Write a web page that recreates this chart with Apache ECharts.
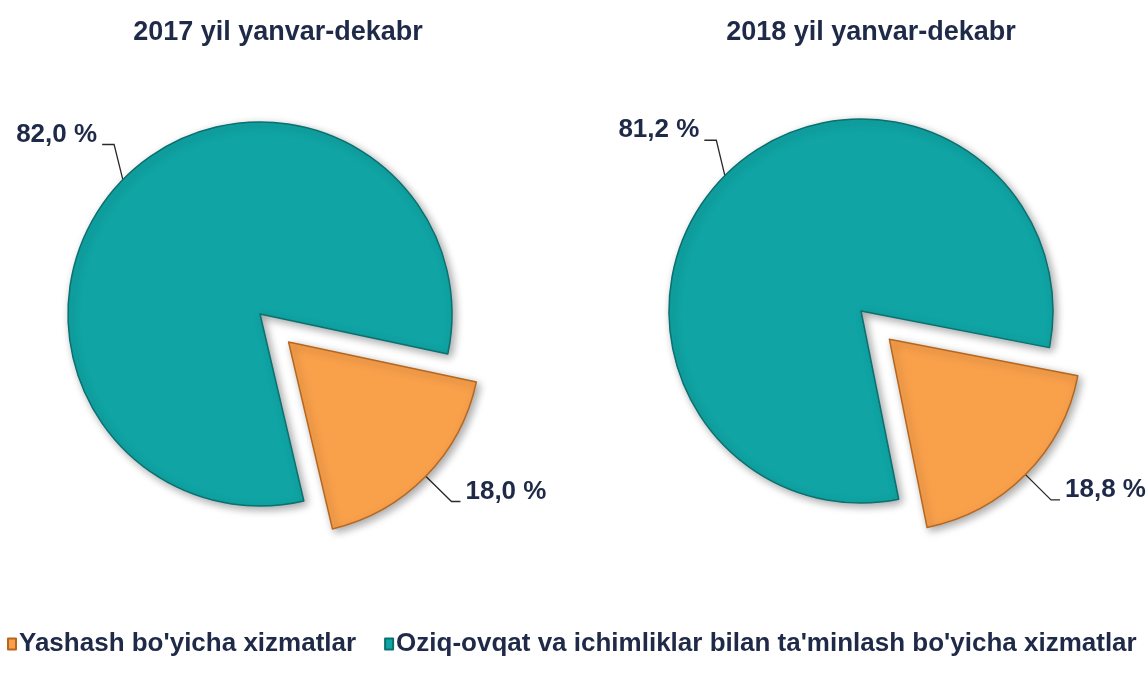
<!DOCTYPE html>
<html>
<head>
<meta charset="utf-8">
<script src="https://cdn.jsdelivr.net/npm/echarts@6/dist/echarts.min.js"></script>
<style>
  html, body { margin: 0; padding: 0; background: #fff; }
  #chart { width: 1147px; height: 684px; }
</style>
</head>
<body>
<div id="chart"></div>
<script>
// toifalar (legend tartibi bilan)
const categories = ["Yashash bo'yicha xizmatlar", "Oziq-ovqat va ichimliklar bilan ta'minlash bo'yicha xizmatlar"]
const years = ['2017 yil yanvar-dekabr', '2018 yil yanvar-dekabr']
const values2017 = [18.0, 82.0]
const values2018 = [18.8, 81.2]

const colors = ['#f9a04b', '#10a4a4']
const borders = ['#b5671f', '#0a7070']
const textColor = '#1f2a48'

const chart = echarts.init(document.getElementById('chart'))

// yozuvni chiziq ustiga ko'tarish, katta bo'lak yozuvini biroz o'ngga surish
function moveLabel (params) {
  const dx = params.dataIndex === 1 ? 17 : 0
  const dy = params.dataIndex === 1 ? -10 : 0
  const pts = params.labelLinePoints
  const res = { dx: dx, dy: dy - 10 }
  if (pts && dx) {
    res.labelLinePoints = pts.map((p, i) => i === 0 ? p : [p[0] + dx, p[1] + dy])
  }
  return res
}

// bitta pie seriyasini yasash
function makePie (values, center, startAngle) {
  return {
    type: 'pie',
    center: center,
    radius: 192,
    startAngle: startAngle,
    selectedMode: 'single',
    selectedOffset: 40,
    avoidLabelOverlap: false,
    emphasis: { disabled: true },
    labelLayout: moveLabel,
    label: {
      show: true,
      position: 'outside',
      color: textColor,
      fontFamily: 'Liberation Sans',
      fontWeight: 'bold',
      fontSize: 26,
      formatter: p => p.value.toFixed(1).replace('.', ',') + ' %'
    },
    labelLine: {
      show: true,
      length: 36,
      length2: 12,
      lineStyle: { color: '#2a2a2a', width: 1.3 }
    },
    itemStyle: {
      borderWidth: 1.5,
      shadowBlur: 8,
      shadowColor: 'rgba(0,0,0,0.35)',
      shadowOffsetX: 3,
      shadowOffsetY: 3
    },
    data: values.map((v, i) => ({
      name: categories[i],
      value: v,
      selected: i === 0,
      itemStyle: { color: colors[i], borderColor: borders[i] },
      select: { itemStyle: { color: colors[i], borderColor: borders[i], borderWidth: 1.5 } },
      labelLine: i === 0 ? { length: 36, length2: 9 } : undefined
    }))
  }
}

const titleStyle = { fontFamily: 'Liberation Sans', fontWeight: 'bold', fontSize: 27, color: textColor }

const option = {
  animation: false,
  color: colors,
  title: [
    { text: years[0], left: 273, top: 14, textAlign: 'center', textStyle: titleStyle },
    { text: years[1], left: 866, top: 14, textAlign: 'center', textStyle: titleStyle }
  ],
  legend: {
    left: 2,
    top: 626,
    icon: 'rect',
    itemWidth: 8,
    itemHeight: 11,
    itemGap: 28,
    selectedMode: false,
    data: categories,
    textStyle: {
      fontFamily: 'Liberation Sans Narrow, Liberation Sans',
      fontWeight: 'bold',
      fontSize: 26,
      color: textColor,
      padding: [0, 0, 0, -2]
    }
  },
  series: [
    makePie(values2017, [260, 314], -12),
    makePie(values2018, [861, 311], -11)
  ]
}

chart.setOption(option)
</script>
</body>
</html>
